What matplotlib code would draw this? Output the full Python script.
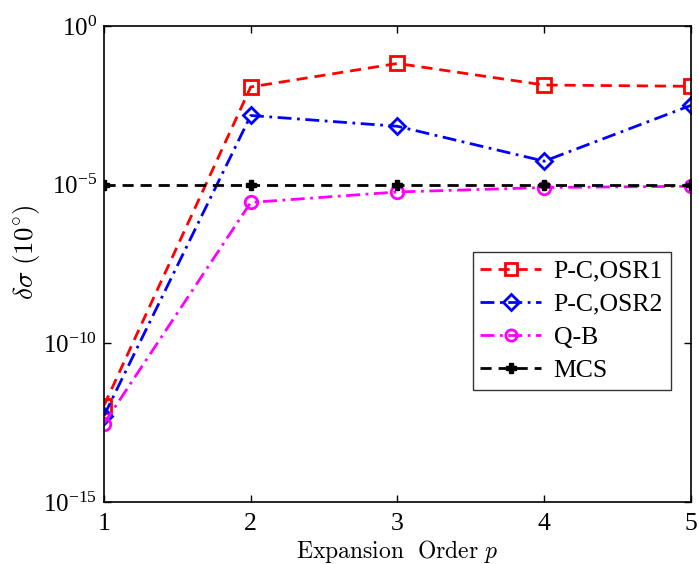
import matplotlib
matplotlib.use("Agg")
import matplotlib.pyplot as plt
import numpy as np

plt.rcParams['font.family'] = ['Liberation Serif', 'DejaVu Serif']
plt.rcParams['mathtext.fontset'] = 'stix'

orders = [1, 2, 3, 4, 5]
osr1 = [10**-11.96, 10**-1.92, 10**-1.18, 10**-1.86, 10**-1.90]
osr2 = [10**-12.28, 10**-2.82, 10**-3.16, 10**-4.26, 10**-2.50]
qb = [10**-12.53, 10**-5.56, 10**-5.23, 10**-5.09, 10**-5.05]
mcs = [10**-5.02] * 5

fig = plt.figure(figsize=(6.99, 5.64), dpi=100)
ax = fig.add_axes([104/699, 1-502/564, 587/699, 476/564])

ax.plot(orders, osr1, color='red', ls=(0, (4, 2.5)), lw=2, marker='s', ms=10,
        mfc='none', mec='red', mew=2, label='P-C,OSR1')
ax.plot(orders, osr2, color='blue', ls=(0, (5, 2, 1, 2)), lw=2, marker='D', ms=8.5,
        mfc='none', mec='blue', mew=2, label='P-C,OSR2')
ax.plot(orders, qb, color='magenta', ls=(0, (5, 2, 1, 2)), lw=2, marker='o', ms=9,
        mfc='none', mec='magenta', mew=2, label='Q-B')
ax.plot(orders, mcs, color='black', ls=(0, (4, 2.5)), lw=2, marker='P', ms=7.5,
        mfc='black', mec='black', label='MCS')

ax.set_yscale('log')
ax.set_xlim(1, 5)
ax.set_ylim(1e-15, 1e0)
ax.set_xticks(orders)
ax.set_xticklabels([str(o) for o in orders])
ax.set_yticks([1e-15, 1e-10, 1e-5, 1e0])
ax.set_yticklabels([r'$\mathregular{10^{-15}}$', r'$\mathregular{10^{-10}}$',
                    r'$\mathregular{10^{-5}}$', r'$\mathregular{10^{0}}$'])
ax.yaxis.set_minor_locator(matplotlib.ticker.NullLocator())
ax.tick_params(which='both', direction='in', top=True, right=True, labelsize=18, length=5, width=1)
ax.tick_params(axis='x', pad=8, labelsize=18.5)
ax.tick_params(axis='y', pad=5)

xl = ax.set_xlabel(r'$\mathrm{Expansion\ \ Order}\ p$', fontsize=17, labelpad=2)
xl.set_math_fontfamily('cm')
yl = ax.set_ylabel(r'$\delta\sigma\ (10^{\circ})$', fontsize=19.5)
yl.set_math_fontfamily('cm')
ax.yaxis.set_label_coords(-0.105, 0.525)

for s in ax.spines.values():
    s.set_linewidth(1.2)

leg = ax.legend(loc='upper left', bbox_to_anchor=(0.628, 0.525), fontsize=18.5,
                frameon=True, fancybox=False, edgecolor='black', handlelength=2.35,
                borderpad=0.3, labelspacing=0.39, handletextpad=0.5, borderaxespad=0,
                markerscale=0.9)
leg.get_frame().set_linewidth(1.0)

fig.savefig('out.png', dpi=100)
